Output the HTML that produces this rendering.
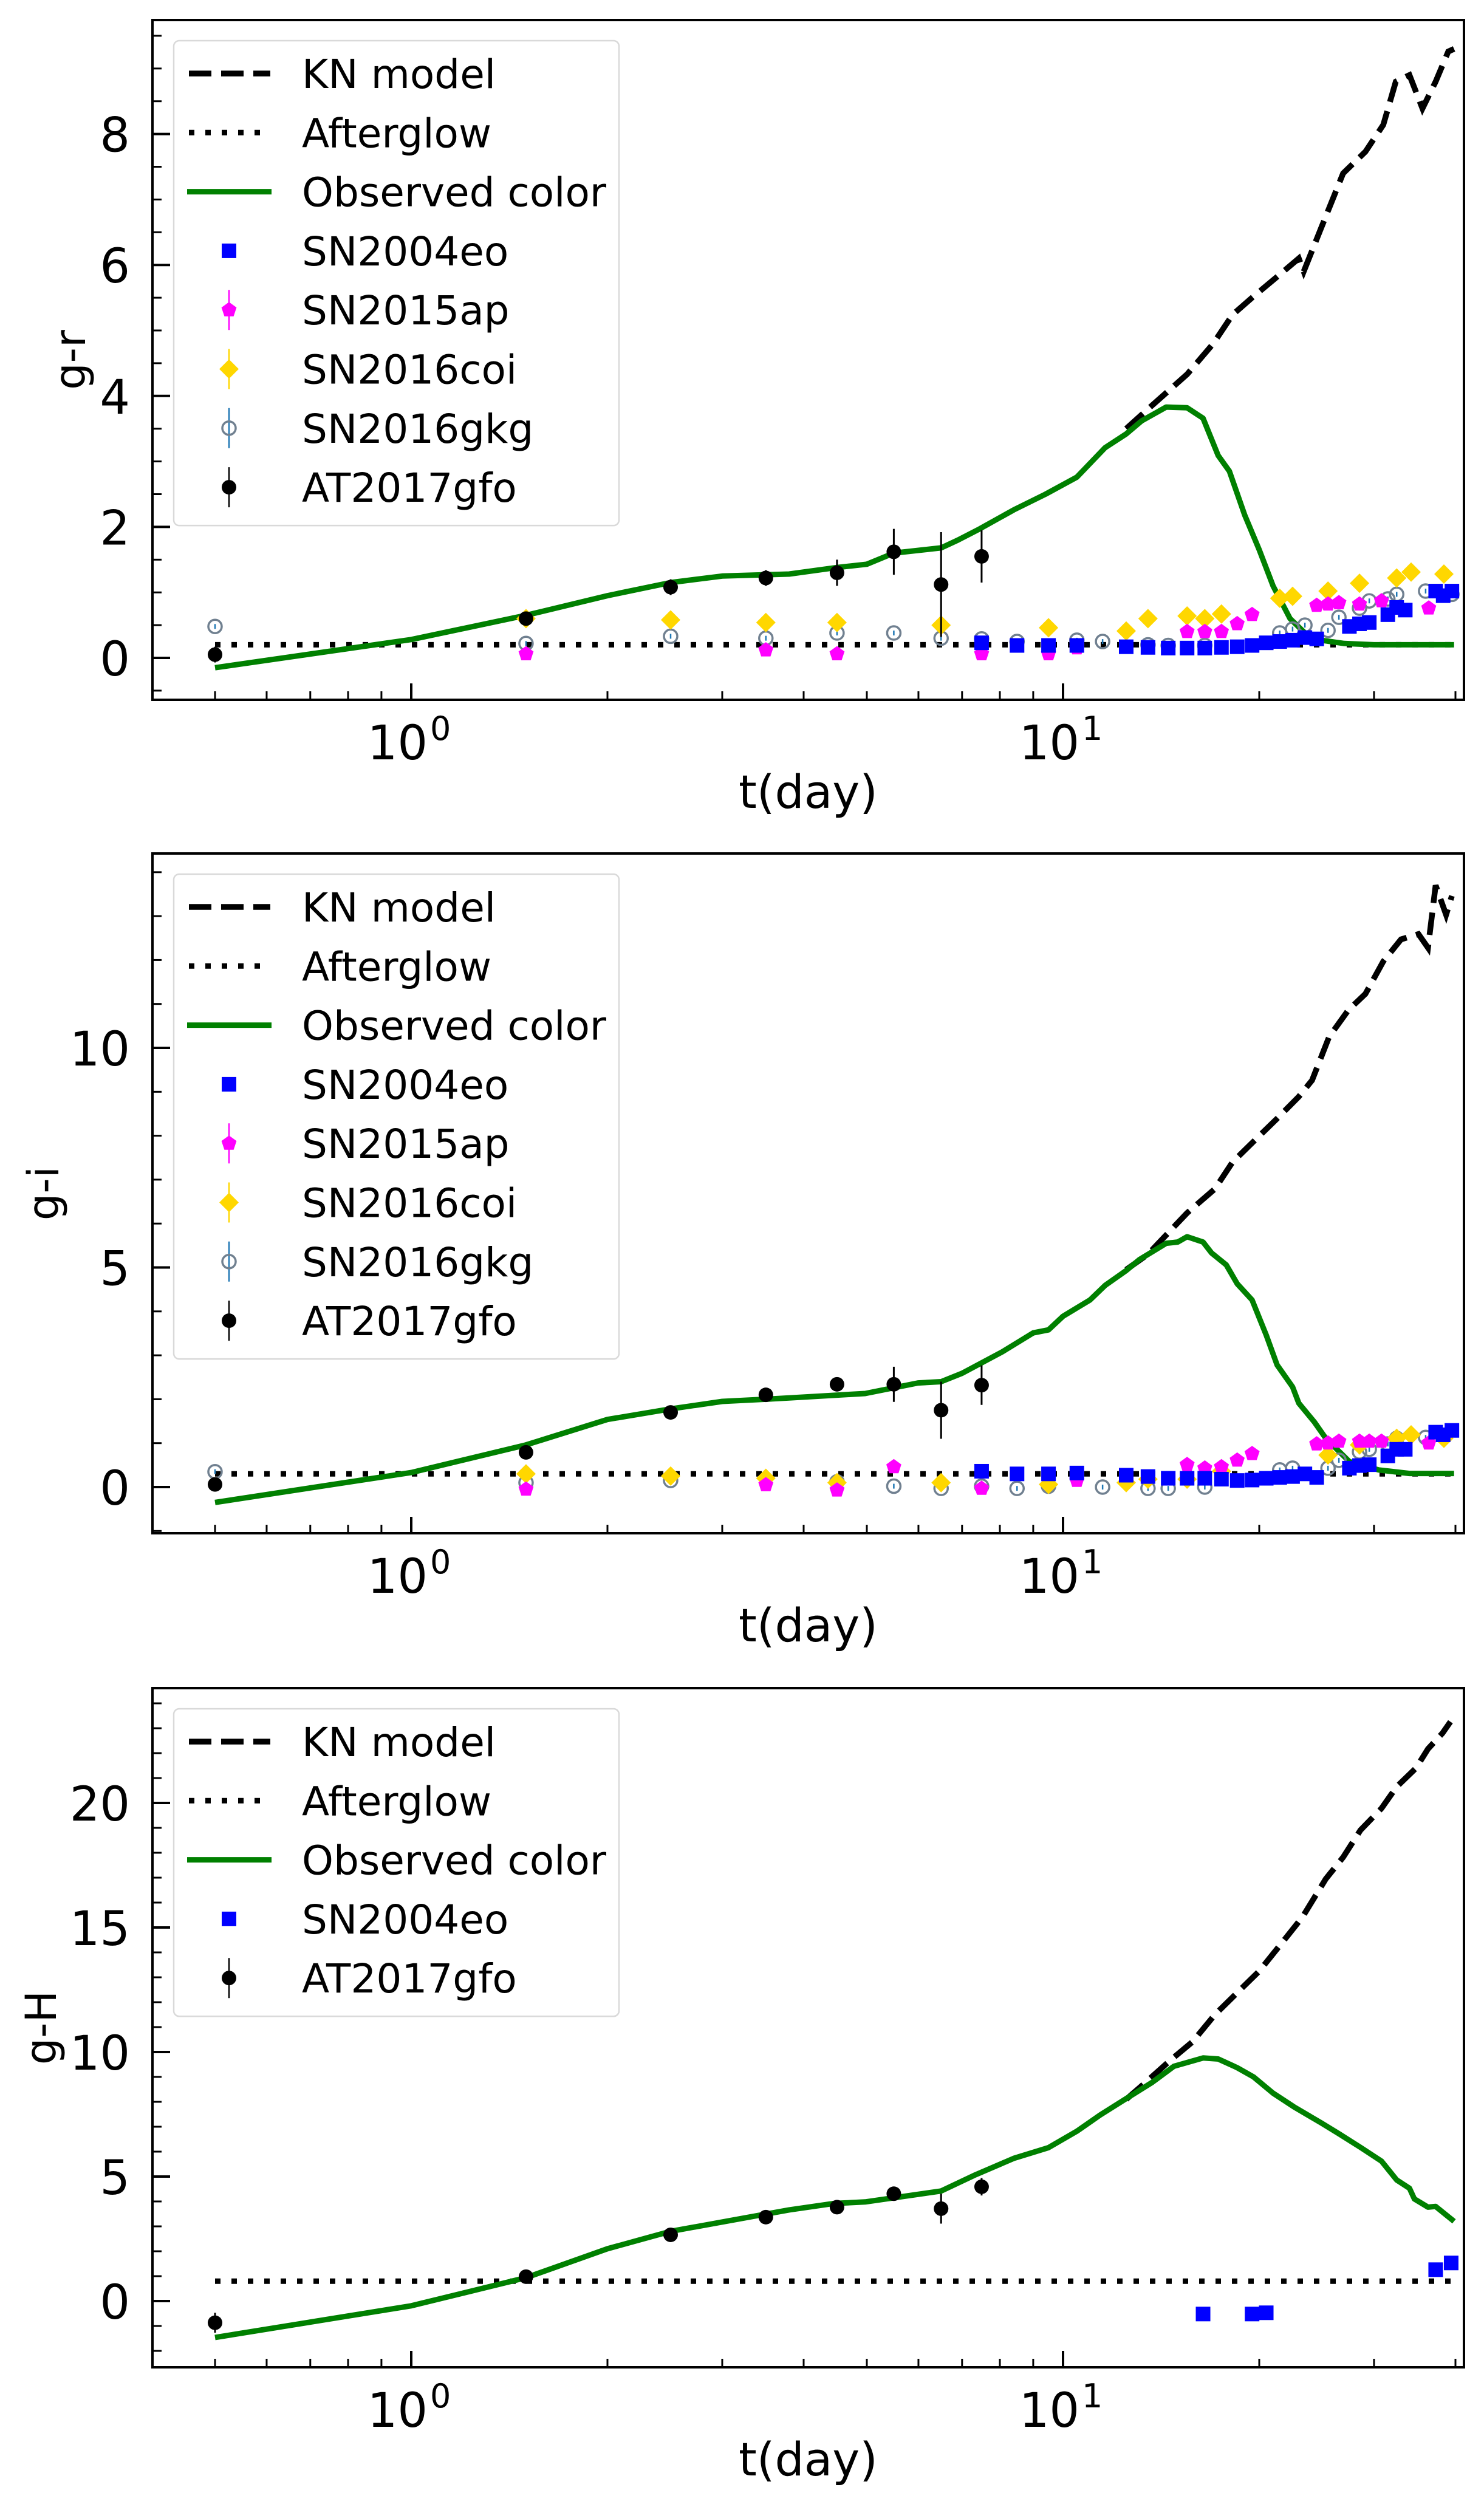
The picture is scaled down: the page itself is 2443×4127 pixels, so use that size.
<!DOCTYPE html>
<html><head><meta charset="utf-8"><style>
html,body{margin:0;padding:0;background:#fff;}
svg{display:block;font-family:"DejaVu Sans","Liberation Sans",sans-serif;}
</style></head><body>
<svg id="fig" xmlns="http://www.w3.org/2000/svg" width="2443" height="4127" viewBox="0 0 2443 4127"></svg>
<script>
// ---- shared x data (days) ----
const atT = [0.5,1.5,2.5,3.5,4.5,5.5,6.5,7.5];
const afterT = [0.5,39.8];

// ---- panel 1: g-r ----
const p1KnT = [12.5,13.5,15.5,17,18.2,19.5,21.3,23,23.4,24.9,26.9,29.1,31,32.4,34,35.6,37.3,39,39.8];
const p1KnV = [3.5,3.8,4.33,4.8,5.24,5.5,5.82,6.1,5.9,6.57,7.4,7.73,8.14,8.8,8.9,8.39,8.8,9.26,9.3];
const p1GreenT = [0.5,1,1.5,2,2.5,3,3.5,3.8,4.5,5,5.5,6.5,6.9,7.45,8.4,9.4,10.5,11.6,12.5,13.2,14.4,15.5,16.4,17.3,18.0,19.0,20,21,22.3,23.5,24.9,27,30,35,39.8];
const p1GreenV = [-0.15,0.28,0.65,0.95,1.15,1.25,1.27,1.28,1.38,1.43,1.6,1.68,1.8,1.97,2.26,2.5,2.76,3.21,3.42,3.62,3.83,3.82,3.66,3.09,2.85,2.18,1.65,1.1,0.6,0.38,0.27,0.22,0.2,0.2,0.2];
const p1After = [0.2,0.2];
const p1AtV = [0.05,0.6,1.08,1.22,1.3,1.62,1.12,1.55];
const p1AtE = [0.12,0.1,0.12,0.12,0.2,0.35,0.8,0.4];
const p1BlueT = [7.5,8.5,9.5,10.5,12.5,13.5,14.5,15.5,16.5,17.5,18.5,19.5,20.5,21.5,22.5,23.5,24.5,27.5,28.5,29.5,31.5,32.5,33.5,37.3,38.3,39.5];
const p1BlueV = [0.23,0.19,0.19,0.19,0.17,0.16,0.15,0.15,0.15,0.16,0.17,0.19,0.23,0.25,0.27,0.31,0.29,0.48,0.52,0.54,0.66,0.77,0.73,1.02,0.95,1.02];
const p1MagT = [1.5,3.5,4.5,7.5,9.5,10.5,15.5,16.5,17.5,18.5,19.5,24.5,25.5,26.5,28.5,30.8,36.4];
const p1MagV = [0.06,0.12,0.06,0.06,0.06,0.15,0.4,0.4,0.4,0.52,0.66,0.8,0.82,0.84,0.82,0.87,0.76];
const p1GoldT = [1.5,2.5,3.5,4.5,6.5,9.5,12.5,13.5,15.5,16.5,17.5,21.5,22.5,25.5,28.5,32.5,34.2,38.4];
const p1GoldV = [0.6,0.58,0.54,0.54,0.5,0.46,0.41,0.6,0.64,0.6,0.67,0.91,0.94,1.02,1.14,1.22,1.31,1.28];
const p1GkgT = [0.5,1.5,2.5,3.5,4.5,5.5,6.5,7.5,8.5,10.5,11.5,13.5,14.5,16.5,21.5,22.5,23.5,25.5,26.5,28.5,29.5,31.5,32.5,36,39.5];
const p1GkgV = [0.48,0.22,0.33,0.3,0.38,0.38,0.3,0.29,0.25,0.27,0.25,0.2,0.19,0.19,0.38,0.44,0.5,0.42,0.62,0.76,0.87,0.9,0.97,1.02,0.97];

// ---- panel 2: g-i ----
const p2KnT = [12.5,13.5,14.4,15.5,17.1,18.2,19.7,21.3,23,24.1,25.6,27.4,29.1,31,33,35.1,36.3,37.3,38.7,39.5];
const p2KnV = [4.95,5.3,5.74,6.24,6.79,7.4,7.9,8.39,8.89,9.26,10.25,10.86,11.23,11.97,12.47,12.59,12.28,13.7,13.03,13.46];
const p2GreenT = [0.5,1,1.5,2,2.5,3,3.5,3.8,4.97,5.99,6.5,7.0,8.07,9.0,9.5,10,11,11.6,12.5,13.1,14.4,15.0,15.5,16.4,16.9,17.8,18.5,19.5,20.5,21.3,22.5,23,24.3,25.3,27.5,30.5,34,39.8];
const p2GreenV = [-0.35,0.33,0.96,1.54,1.78,1.95,2.0,2.03,2.13,2.37,2.4,2.59,3.08,3.51,3.58,3.89,4.26,4.59,4.93,5.18,5.55,5.58,5.7,5.58,5.33,5.06,4.63,4.26,3.46,2.78,2.28,1.91,1.48,1.11,0.58,0.39,0.31,0.31];
const p2After = [0.3,0.3];
const p2AtV = [0.06,0.79,1.7,2.1,2.34,2.34,1.75,2.32];
const p2AtE = [0.1,0.1,0.12,0.15,0.15,0.4,0.65,0.45];
const p2BlueT = [7.5,8.5,9.5,10.5,12.5,13.5,14.5,15.5,16.5,17.5,18.5,19.5,20.5,21.5,22.5,23.5,24.5,27.5,28.5,29.5,31.5,32.5,33.5,37.3,38.3,39.5];
const p2BlueV = [0.36,0.3,0.3,0.32,0.27,0.24,0.2,0.2,0.2,0.18,0.15,0.16,0.2,0.22,0.24,0.3,0.22,0.43,0.49,0.51,0.71,0.86,0.86,1.25,1.19,1.29];
const p2MagT = [1.5,3.5,4.5,5.5,7.5,10.5,15.5,16.5,17.5,18.5,19.5,24.5,25.5,26.5,28.5,29.5,30.8,36.4];
const p2MagV = [-0.05,0.05,-0.07,0.46,-0.03,0.15,0.51,0.43,0.46,0.61,0.76,0.98,1.0,1.04,1.04,1.04,1.04,1.0];
const p2GoldT = [1.5,2.5,3.5,4.5,6.5,9.5,12.5,13.5,15.5,17.5,25.5,28.5,32.5,34.2,38.4];
const p2GoldV = [0.3,0.25,0.2,0.1,0.1,0.06,0.1,0.18,0.18,0.36,0.73,0.96,1.11,1.19,1.11];
const p2GkgT = [0.5,1.5,2.5,4.5,5.5,6.5,7.5,8.5,9.5,11.5,13.5,14.5,16.5,21.5,22.5,25.5,26.5,28.5,29.5,31.5,32.5,36];
const p2GkgV = [0.35,0.1,0.15,0.12,0.02,-0.03,0.02,-0.03,0.02,0,-0.03,-0.03,0,0.39,0.43,0.43,0.61,0.8,0.86,0.98,1.11,1.13];

// ---- panel 3: g-H ----
const p3KnT = [12.5,13.1,14.6,15.8,17.1,18.5,20.0,21.6,23.3,25.3,26.9,28.6,30.8,32.5,34.8,36.3,38.2,39.3];
const p3KnV = [8.1,8.56,9.66,10.41,11.5,12.38,13.25,14.34,15.42,16.95,17.82,18.91,19.78,20.65,21.4,22.17,22.8,23.26];
const p3GreenT = [0.5,1,1.5,2,2.5,3.8,4.45,4.97,6.5,7.34,8.4,9.5,10.5,11.4,12.5,13.7,14.8,16.4,17.3,18.5,19.6,21.0,22.6,24.9,26.5,28.6,30.8,32.5,34,34.6,36.3,37.3,39.8];
const p3GreenV = [-1.46,-0.19,0.94,2.1,2.8,3.66,3.92,3.98,4.42,5.07,5.73,6.16,6.82,7.47,8.13,8.78,9.43,9.76,9.72,9.37,9.0,8.35,7.8,7.15,6.72,6.17,5.62,4.86,4.53,4.1,3.77,3.8,3.2];
const p3After = [0.8,0.8];
const p3AtV = [-0.87,0.98,2.66,3.37,3.77,4.31,3.71,4.59];
const p3AtE = [0.4,0.1,0.15,0.15,0.15,0.2,0.6,0.35];
const p3BlueT = [16.4,19.5,20.5,37.3,39.4];
const p3BlueV = [-0.52,-0.52,-0.47,1.26,1.53];

// ---- axis tick labels ----
const xMajor = [1,10];
const xMajorExp = ["0","1"];
const p1YTicks = [0,2,4,6,8];
const p2YTicks = [0,5,10];
const p3YTicks = [0,5,10,15,20];

const NS = "http://www.w3.org/2000/svg";
const svg = document.getElementById('fig');
function mk(tag, attrs, parent){
  const e = document.createElementNS(NS, tag);
  for (const k in attrs) e.setAttribute(k, attrs[k]);
  (parent||svg).appendChild(e);
  return e;
}
const L = 251, R = 2410, X0 = 677, DEC = 1073;
function xPix(t){ return X0 + DEC*Math.log10(t); }

function panel(cfg){
  const g = mk('g', {});
  
  
  const yPix = v => cfg.y0 - cfg.ppu*v;
  const clipId = 'clip-' + cfg.name;
  const cp = mk('clipPath', {id: clipId}, g);
  mk('rect', {x:L, y:cfg.top, width:R-L, height:cfg.bottom-cfg.top}, cp);
  const plot = mk('g', {'clip-path':'url(#'+clipId+')'}, g);
  
  
  const path = (ts, vs) => ts.map((t,i)=>(i?'L':'M')+xPix(t).toFixed(1)+' '+yPix(vs[i]).toFixed(1)).join(' ');

  const kn = mk('path', {d:path(cfg.knT,cfg.knV), fill:'none', stroke:'#000', 'stroke-width':9.5, 'stroke-dasharray':'37 16'}, plot);
  
  
  const ag = mk('path', {d:path(afterT,cfg.after), fill:'none', stroke:'#000', 'stroke-width':9, 'stroke-dasharray':'9 18'}, plot);
  
  
  const gr = mk('path', {d:path(cfg.greenT,cfg.greenV), fill:'none', stroke:'#008000', 'stroke-width':9, 'stroke-linejoin':'round'}, plot);
  
  

  if (cfg.gkgT) cfg.gkgT.forEach((t,i)=>{ const m = gkgMark(plot, xPix(t), yPix(cfg.gkgV[i]), 4);
      });
  if (cfg.goldT) cfg.goldT.forEach((t,i)=>{ const m = diamond(plot, xPix(t), yPix(cfg.goldV[i]));
      });
  if (cfg.magT) cfg.magT.forEach((t,i)=>{ const m = pent(plot, xPix(t), yPix(cfg.magV[i]));
      });
  cfg.blueT.forEach((t,i)=>{ const m = square(plot, xPix(t), yPix(cfg.blueV[i]));
      });
  atT.forEach((t,i)=>{ const x=xPix(t), y=yPix(cfg.atV[i]), e=cfg.ppu*cfg.atE[i];
    const m = mk('g', {}, plot);
    
    
    mk('line', {x1:x,x2:x,y1:y-e,y2:y+e,stroke:'#000','stroke-width':3}, m);
    mk('circle', {cx:x,cy:y,r:12,fill:'#000'}, m);
  });

  const fr = mk('rect', {x:L, y:cfg.top, width:R-L, height:cfg.bottom-cfg.top, fill:'none', stroke:'#000', 'stroke-width':4}, g);
  
  

  const xt = mk('g', {}, g);
  
  
  [0.5,0.6,0.7,0.8,0.9,2,3,4,5,6,7,8,9,20,30,40].forEach(t=>{ const x=xPix(t);
    mk('line',{x1:x,x2:x,y1:cfg.bottom,y2:cfg.bottom-14,stroke:'#000','stroke-width':3},xt); });
  xMajor.forEach((t,i)=>{ const x=xPix(t);
    mk('line',{x1:x,x2:x,y1:cfg.bottom,y2:cfg.bottom-27,stroke:'#000','stroke-width':4},xt);
    const tx = mk('text',{x:x+27,y:cfg.bottom+98,'font-size':78,'text-anchor':'end',fill:'#000'},xt);
    tx.textContent='10';
    
    
    const sp = mk('text',{x:x+31,y:cfg.bottom+66,'font-size':54,fill:'#000'},xt);
    sp.textContent=xMajorExp[i];
  });
  const xl = mk('text',{x:(L+R)/2,y:cfg.bottom+178,'font-size':76,'text-anchor':'middle',fill:'#000'},g);
  xl.textContent='t(day)';
  
  

  const yt = mk('g', {}, g);
  
  
  const vmin = (cfg.y0-cfg.bottom)/cfg.ppu, vmax=(cfg.y0-cfg.top)/cfg.ppu;
  for (let v=Math.ceil(vmin/cfg.minor)*cfg.minor; v<=vmax; v+=cfg.minor){
    const y=yPix(v); mk('line',{x1:L,x2:L+15,y1:y,y2:y,stroke:'#000','stroke-width':3},yt); }
  cfg.yTicks.forEach(v=>{ const y=yPix(v);
    mk('line',{x1:L,x2:L+29,y1:y,y2:y,stroke:'#000','stroke-width':4},yt);
    const tx = mk('text',{x:214,y:y+29,'font-size':78,'text-anchor':'end',fill:'#000'},yt);
    tx.textContent=String(v);
    
    
  });
  const cy=(cfg.top+cfg.bottom)/2;
  const yl = mk('text',{x:cfg.ylx,y:cy,'font-size':70,'text-anchor':'middle',fill:'#000',transform:'rotate(-90 '+cfg.ylx+' '+cy+')'},g);
  yl.textContent=cfg.ylabel;
  
  

  const lg = mk('g', {}, g);
  
  
  const lt = cfg.top+34, n=cfg.legend.length;
  mk('rect',{x:286,y:lt,width:733,height:54+97.3*(n-1)+63,rx:9,fill:'#fff','fill-opacity':0.8,stroke:'#d9d9d9','stroke-width':2.5},lg);
  cfg.legend.forEach((lab,i)=>{
    const y = lt+54+97.3*i;
    const e = mk('g',{},lg);
    
    
    if (lab==='KN model') mk('line',{x1:311,x2:445,y1:y,y2:y,stroke:'#000','stroke-width':9.5,'stroke-dasharray':'37 16'},e);
    else if (lab==='Afterglow') mk('line',{x1:311,x2:445,y1:y,y2:y,stroke:'#000','stroke-width':9,'stroke-dasharray':'9 18'},e);
    else if (lab==='Observed color') mk('line',{x1:308,x2:447,y1:y,y2:y,stroke:'#008000','stroke-width':9},e);
    else if (lab==='SN2004eo') square(e,377,y);
    else if (lab==='SN2015ap'){ mk('line',{x1:377,x2:377,y1:y-33,y2:y+33,stroke:'#ff00ff','stroke-width':2.5},e); pent(e,377,y); }
    else if (lab==='SN2016coi'){ mk('line',{x1:377,x2:377,y1:y-33,y2:y+33,stroke:'#ffd700','stroke-width':2.5},e); diamond(e,377,y); }
    else if (lab==='SN2016gkg'){ gkgMark(e,377,y,33); }
    else if (lab==='AT2017gfo'){ mk('line',{x1:377,x2:377,y1:y-33,y2:y+33,stroke:'#000','stroke-width':2.5},e); mk('circle',{cx:377,cy:y,r:12,fill:'#000'},e); }
    const tx = mk('text',{x:497,y:y+24,'font-size':66,fill:'#000'},e);
    tx.textContent=lab;
  });
}
function square(p,x,y){ return mk('rect',{x:x-12,y:y-12,width:24,height:24,fill:'#0000ff'},p); }
function diamond(p,x,y){ return mk('path',{d:`M${x} ${y-16} L${x+16} ${y} L${x} ${y+16} L${x-16} ${y} Z`,fill:'#ffd700'},p); }
function pent(p,x,y){ let d=''; for(let k=0;k<5;k++){const a=-Math.PI/2+k*2*Math.PI/5; d+=(k?'L':'M')+(x+13*Math.cos(a)).toFixed(1)+' '+(y+13*Math.sin(a)).toFixed(1);} return mk('path',{d:d+'Z',fill:'#ff00ff'},p); }
function gkgMark(p,x,y,e){ const m=mk('g',{},p);
  mk('line',{x1:x,x2:x,y1:y-e,y2:y+e,stroke:'#1f77b4','stroke-width':2.5},m);
  mk('circle',{cx:x,cy:y,r:11,fill:'none',stroke:'#708090','stroke-width':3.5},m); return m; }

panel({name:'panel-g-r', top:33, bottom:1152, y0:1083, ppu:107.8, yTicks:p1YTicks, minor:0.5, ylabel:'g-r', ylx:140,
  knT:p1KnT, knV:p1KnV, greenT:p1GreenT, greenV:p1GreenV, after:p1After, atV:p1AtV, atE:p1AtE,
  blueT:p1BlueT, blueV:p1BlueV, magT:p1MagT, magV:p1MagV, goldT:p1GoldT, goldV:p1GoldV, gkgT:p1GkgT, gkgV:p1GkgV,
  legend:['KN model','Afterglow','Observed color','SN2004eo','SN2015ap','SN2016coi','SN2016gkg','AT2017gfo']});
panel({name:'panel-g-i', top:1405, bottom:2524, y0:2448, ppu:72.3, yTicks:p2YTicks, minor:1, ylabel:'g-i', ylx:96,
  knT:p2KnT, knV:p2KnV, greenT:p2GreenT, greenV:p2GreenV, after:p2After, atV:p2AtV, atE:p2AtE,
  blueT:p2BlueT, blueV:p2BlueV, magT:p2MagT, magV:p2MagV, goldT:p2GoldT, goldV:p2GoldV, gkgT:p2GkgT, gkgV:p2GkgV,
  legend:['KN model','Afterglow','Observed color','SN2004eo','SN2015ap','SN2016coi','SN2016gkg','AT2017gfo']});
panel({name:'panel-g-H', top:2779, bottom:3897, y0:3788, ppu:41, yTicks:p3YTicks, minor:1, ylabel:'g-H', ylx:92,
  knT:p3KnT, knV:p3KnV, greenT:p3GreenT, greenV:p3GreenV, after:p3After, atV:p3AtV, atE:p3AtE,
  blueT:p3BlueT, blueV:p3BlueV,
  legend:['KN model','Afterglow','Observed color','SN2004eo','AT2017gfo']});
</script>
</body></html>
